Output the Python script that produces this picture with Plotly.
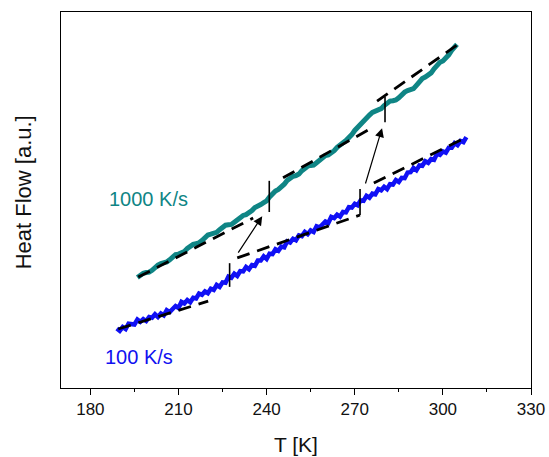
import plotly.graph_objects as go

# ---------------- data ----------------
# 100 K/s curve (noisy)
T_100 = [189, 190, 191, 192, 193, 194, 195, 196, 197, 198, 199, 200, 201, 202, 203, 204, 205, 206, 207, 208,
         209, 210, 211, 212, 213, 214, 215, 216, 217, 218, 219, 220, 221, 222, 223, 224, 225, 226, 227, 228,
         229, 230, 231, 232, 233, 234, 235, 236, 237, 238, 239, 240, 241, 242, 243, 244, 245, 246, 247, 248,
         249, 250, 251, 252, 253, 254, 255, 256, 257, 258, 259, 260, 261, 262, 263, 264, 265, 266, 267, 268,
         269, 270, 271, 272, 273, 274, 275, 276, 277, 278, 279, 280, 281, 282, 283, 284, 285, 286, 287, 288,
         289, 290, 291, 292, 293, 294, 295, 296, 297, 298, 299, 300, 301, 302, 303, 304, 305, 306, 307, 308]
HF_100 = [1.58, 1.52, 1.62, 1.57, 1.71, 1.71, 1.69, 1.82, 1.76, 1.83, 1.78, 1.89, 1.87, 1.96, 1.89, 1.98, 1.93, 2.07, 2.02, 2.10,
          2.18, 2.13, 2.29, 2.25, 2.34, 2.28, 2.40, 2.38, 2.51, 2.48, 2.57, 2.52, 2.64, 2.61, 2.74, 2.69, 2.81, 2.80, 2.96, 2.93,
          3.04, 2.98, 3.11, 3.10, 3.22, 3.16, 3.27, 3.25, 3.39, 3.39, 3.50, 3.43, 3.57, 3.56, 3.69, 3.65, 3.76, 3.74, 3.90, 3.87,
          3.97, 3.93, 4.06, 4.04, 4.15, 4.09, 4.19, 4.15, 4.30, 4.27, 4.36, 4.43, 4.39, 4.55, 4.52, 4.61, 4.56, 4.68, 4.67, 4.81,
          4.80, 4.90, 4.86, 4.99, 4.98, 5.11, 5.06, 5.17, 5.15, 5.29, 5.26, 5.35, 5.29, 5.42, 5.41, 5.53, 5.48, 5.59, 5.58, 5.73,
          5.74, 5.85, 5.79, 5.92, 5.91, 6.03, 5.99, 6.09, 6.07, 6.23, 6.20, 6.29, 6.26, 6.39, 6.39, 6.51, 6.46, 6.57, 6.54, 6.67]

# 1000 K/s curve
T_1000 = [196, 197, 198, 199, 200, 201, 202, 203, 204, 205, 206, 207, 208, 209, 210, 211, 212, 213, 214, 215,
          216, 217, 218, 219, 220, 221, 222, 223, 224, 225, 226, 227, 228, 229, 230, 231, 232, 233, 234, 235,
          236, 237, 238, 239, 240, 241, 242, 243, 244, 245, 246, 247, 248, 249, 250, 251, 252, 253, 254, 255,
          256, 257, 258, 259, 260, 261, 262, 263, 264, 265, 266, 267, 268, 269, 270, 271, 272, 273, 274, 275,
          276, 277, 278, 279, 280, 281, 282, 283, 284, 285, 286, 287, 288, 289, 290, 291, 292, 293, 294, 295,
          296, 297, 298, 299, 300, 301, 302, 303, 304, 304.8]
HF_1000 = [2.94, 3.00, 3.05, 3.07, 3.08, 3.13, 3.21, 3.27, 3.31, 3.32, 3.35, 3.41, 3.49, 3.55, 3.56, 3.59, 3.63, 3.71, 3.78, 3.82,
           3.84, 3.86, 3.92, 4.00, 4.07, 4.09, 4.11, 4.14, 4.21, 4.28, 4.33, 4.34, 4.35, 4.41, 4.48, 4.55, 4.59, 4.61, 4.65, 4.72,
           4.80, 4.86, 4.88, 4.93, 4.98, 5.08, 5.18, 5.24, 5.28, 5.34, 5.42, 5.52, 5.59, 5.63, 5.65, 5.69, 5.78, 5.85, 5.90, 5.92,
           5.93, 5.99, 6.06, 6.13, 6.18, 6.20, 6.24, 6.31, 6.40, 6.48, 6.52, 6.58, 6.64, 6.74, 6.85, 6.94, 7.00, 7.07, 7.17, 7.26,
           7.33, 7.37, 7.40, 7.43, 7.51, 7.57, 7.63, 7.64, 7.66, 7.72, 7.80, 7.87, 7.91, 7.93, 7.96, 8.05, 8.15, 8.23, 8.27, 8.32,
           8.38, 8.49, 8.59, 8.66, 8.70, 8.77, 8.86, 8.98, 9.08, 9.14]

# dashed baselines (T, heat flow)
base_100_glass_T = [189.5, 220.1]
base_100_glass_HF = [1.57, 2.31]
base_100_mid_T = [230.0, 271.8]
base_100_mid_HF = [3.46, 4.60]
base_100_liquid_T = [276.5, 308.2]
base_100_liquid_HF = [5.45, 6.68]
base_1000_glass_T = [196.3, 235.4]
base_1000_glass_HF = [2.95, 4.52]
base_1000_mid_T = [245.6, 275.2]
base_1000_mid_HF = [5.59, 6.89]
base_1000_liquid_T = [277.6, 304.8]
base_1000_liquid_HF = [7.63, 9.12]

# vertical step markers: T, HF low, HF high
step_T = [227.4, 271.8, 240.9, 280.3]
step_HF_low = [2.69, 4.60, 4.68, 7.07]
step_HF_high = [3.32, 5.29, 5.51, 7.74]

# arrows: tail -> head
arrow_tail_T = [230.0, 273.5]
arrow_tail_HF = [3.56, 5.40]
arrow_head_T = [238.5, 279.3]
arrow_head_HF = [4.57, 6.91]

# labels
label_text = ["1000 K/s", "100 K/s"]
label_T = [185.6, 184.2]
label_HF = [5.03, 0.82]
label_color = ["#0f8585", "#1010f0"]

x_ticks = [180, 210, 240, 270, 300, 330]
x_title = "T [K]"
y_title = "Heat Flow [a.u.]"

TEAL = "#0f8585"
BLUE = "#1010f5"
FONT = "Arial, Liberation Sans"

fig = go.Figure()

fig.add_trace(go.Scatter(x=T_100, y=HF_100, mode="lines",
                         line=dict(color=BLUE, width=4.5), showlegend=False))
fig.add_trace(go.Scatter(x=T_1000, y=HF_1000, mode="lines",
                         line=dict(color=TEAL, width=5), showlegend=False))

dash_style = dict(color="black", width=2.8, dash="13px,8px")
for xs, ys in [(base_100_glass_T, base_100_glass_HF), (base_100_mid_T, base_100_mid_HF),
               (base_100_liquid_T, base_100_liquid_HF), (base_1000_glass_T, base_1000_glass_HF),
               (base_1000_mid_T, base_1000_mid_HF), (base_1000_liquid_T, base_1000_liquid_HF)]:
    fig.add_trace(go.Scatter(x=xs, y=ys, mode="lines", line=dash_style, showlegend=False))

for t, lo, hi in zip(step_T, step_HF_low, step_HF_high):
    fig.add_trace(go.Scatter(x=[t, t], y=[lo, hi], mode="lines",
                             line=dict(color="black", width=1.6), showlegend=False))

for tx, ty, hx, hy in zip(arrow_tail_T, arrow_tail_HF, arrow_head_T, arrow_head_HF):
    fig.add_annotation(x=hx, y=hy, ax=tx, ay=ty, xref="x", yref="y", axref="x", ayref="y",
                       text="", showarrow=True, arrowhead=2, arrowsize=1.5, arrowwidth=1.2,
                       arrowcolor="black")

for txt, t, h, c in zip(label_text, label_T, label_HF, label_color):
    fig.add_annotation(x=t, y=h, xref="x", yref="y", text=txt, showarrow=False,
                       xanchor="left", yanchor="middle",
                       font=dict(family=FONT, size=20, color=c))

# axis titles placed as paper annotations
fig.add_annotation(x=0.5, y=-0.149, xref="paper", yref="paper", text=x_title, showarrow=False,
                   xanchor="center", yanchor="middle", font=dict(family=FONT, size=21, color="#111"))
fig.add_annotation(x=-0.079, y=0.52, xref="paper", yref="paper", text=y_title, showarrow=False,
                   textangle=-90, xanchor="center", yanchor="middle",
                   font=dict(family=FONT, size=22, color="#111"))

fig.update_layout(
    width=549, height=457,
    margin=dict(l=61, r=18, t=12, b=69, autoexpand=False),
    paper_bgcolor="white", plot_bgcolor="white",
    font=dict(family=FONT, color="black"),
    showlegend=False,
)
fig.update_xaxes(range=[170, 330], tickvals=x_ticks, ticks="outside", ticklen=6, tickwidth=1,
                 tickcolor="black", tickfont=dict(size=17, color="#111"), automargin=False,
                 minor=dict(dtick=15, tick0=180, ticks="outside", ticklen=3, tickcolor="black"),
                 showline=True, linecolor="black", linewidth=1, mirror=True,
                 showgrid=False, zeroline=False)
fig.update_yaxes(range=[0, 10], showticklabels=False, ticks="", automargin=False,
                 showline=True, linecolor="black", linewidth=1, mirror=True,
                 showgrid=False, zeroline=False)

fig.write_html("out.html")
